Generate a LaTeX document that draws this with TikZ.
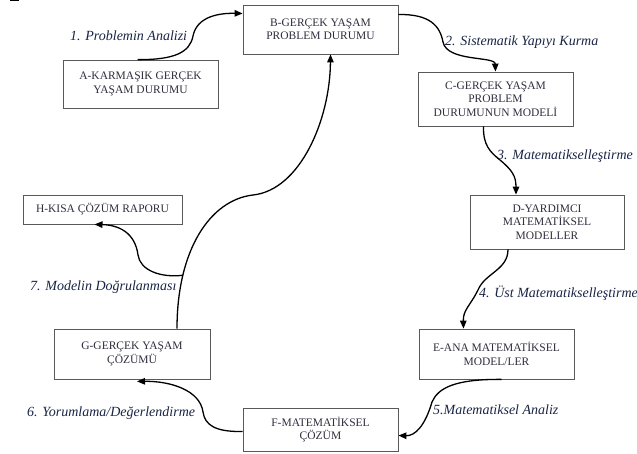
\documentclass[tikz,border=0pt]{standalone}
\usepackage{fontspec}
\setmainfont{Liberation Serif}
\usetikzlibrary{arrows.meta}
\definecolor{boxtext}{rgb}{0.18,0.18,0.24}
\definecolor{labeltext}{rgb}{0.10,0.14,0.27}
\definecolor{boxline}{rgb}{0.35,0.35,0.35}
\tikzset{
  stage/.style={draw=boxline, line width=0.8pt, align=center, inner sep=0pt,
    text=boxtext, font=\fontsize{11.5}{13.5}\selectfont},
  flow/.style={line width=1.3pt, -{Triangle[length=8pt,width=6.5pt]}},
  steplabel/.style={anchor=west, inner sep=0pt, text=labeltext,
    font=\fontsize{14}{16}\selectfont\itshape}
}
\begin{document}
\begin{tikzpicture}[x=1pt,y=-1pt]
\useasboundingbox (0,0) rectangle (637,454);
\fill (10,0) rectangle (19,1.5);

% stages of the modelling cycle
\node[stage, minimum width=155pt, minimum height=48pt] (A) at (140.5,84) {A-KARMAŞIK GERÇEK\\YAŞAM DURUMU};
\node[stage, minimum width=155pt, minimum height=49pt] (B) at (320.5,29.5) {B-GERÇEK YAŞAM\\PROBLEM DURUMU};
\node[stage, minimum width=155pt, minimum height=54pt] (C) at (495.5,99) {C-GERÇEK YAŞAM\\PROBLEM\\DURUMUNUN MODELİ};
\node[stage, minimum width=154pt, minimum height=54pt] (D) at (547,222) {D-YARDIMCI\\MATEMATİKSEL\\MODELLER};
\node[stage, minimum width=155pt, minimum height=50pt] (E) at (496.5,354) {E-ANA MATEMATİKSEL\\MODEL/LER};
\node[stage, minimum width=155pt, minimum height=43pt] (F) at (320.5,429.5) {F-MATEMATİKSEL\\ÇÖZÜM};
\node[stage, minimum width=156pt, minimum height=50pt] (G) at (132,354) {G-GERÇEK YAŞAM\\ÇÖZÜMÜ};
\node[stage, minimum width=159pt, minimum height=29pt] (H) at (102.5,209.5) {H-KISA ÇÖZÜM RAPORU};

% step labels
\node[steplabel] (l1) at (70,36) {1. Problemin Analizi};
\node[steplabel] (l2) at (445,42) {2. Sistematik Yapıyı Kurma};
\node[steplabel] (l3) at (497,156) {3. Matematikselleştirme};
\node[steplabel] (l4) at (479,293) {4. Üst Matematikselleştirme};
\node[steplabel] (l5) at (433,410) {5.Matematiksel Analiz};
\node[steplabel] (l6) at (27,413) {6. Yorumlama/Değerlendirme};
\node[steplabel] (l7) at (30,287) {7. Modelin Doğrulanması};

% connectors
\draw[flow] ([xshift=-3pt]A.north) .. controls (175,60) and (190,52) .. (193,36)
  .. controls (197,16) and (220,13) .. ([yshift=16pt]B.west);
\draw[flow] ([yshift=15pt]B.east) .. controls (430,14) and (440,26) .. (443,42)
  .. controls (447,62) and (495,56) .. (C.north);
\draw[flow] ([xshift=-12pt]C.south) .. controls (483,145) and (490,152) .. (500,160)
  .. controls (512,170) and (516,176) .. ([xshift=-31pt]D.north);
\draw[flow] ([xshift=-39pt]D.south) .. controls (508,270) and (485,273) .. (478,290)
  .. controls (470,306) and (463,310) .. ([xshift=-33pt]E.north);
\draw[flow] ([xshift=5pt]E.south) .. controls (455,379) and (438,388) .. (432,402)
  .. controls (425,426) and (415,436) .. ([yshift=-6pt]F.east);
\draw[flow] ([yshift=-2pt]F.west) .. controls (215,432) and (205,425) .. (203,412)
  .. controls (200,390) and (170,381) .. ([xshift=5pt,yshift=-2pt]G.south);
\draw[flow] ([xshift=45pt]G.north) .. controls (177,250) and (210,200) .. coordinate[pos=0.25] (j) (253,195)
  .. controls (300,190) and (330,120) .. ([xshift=10pt]B.south);
\draw[flow] (j) .. controls (160,278) and (140,270) .. (138,255)
  .. controls (135,232) and (118,225) .. ([xshift=-8pt]H.south);
\end{tikzpicture}
\end{document}
